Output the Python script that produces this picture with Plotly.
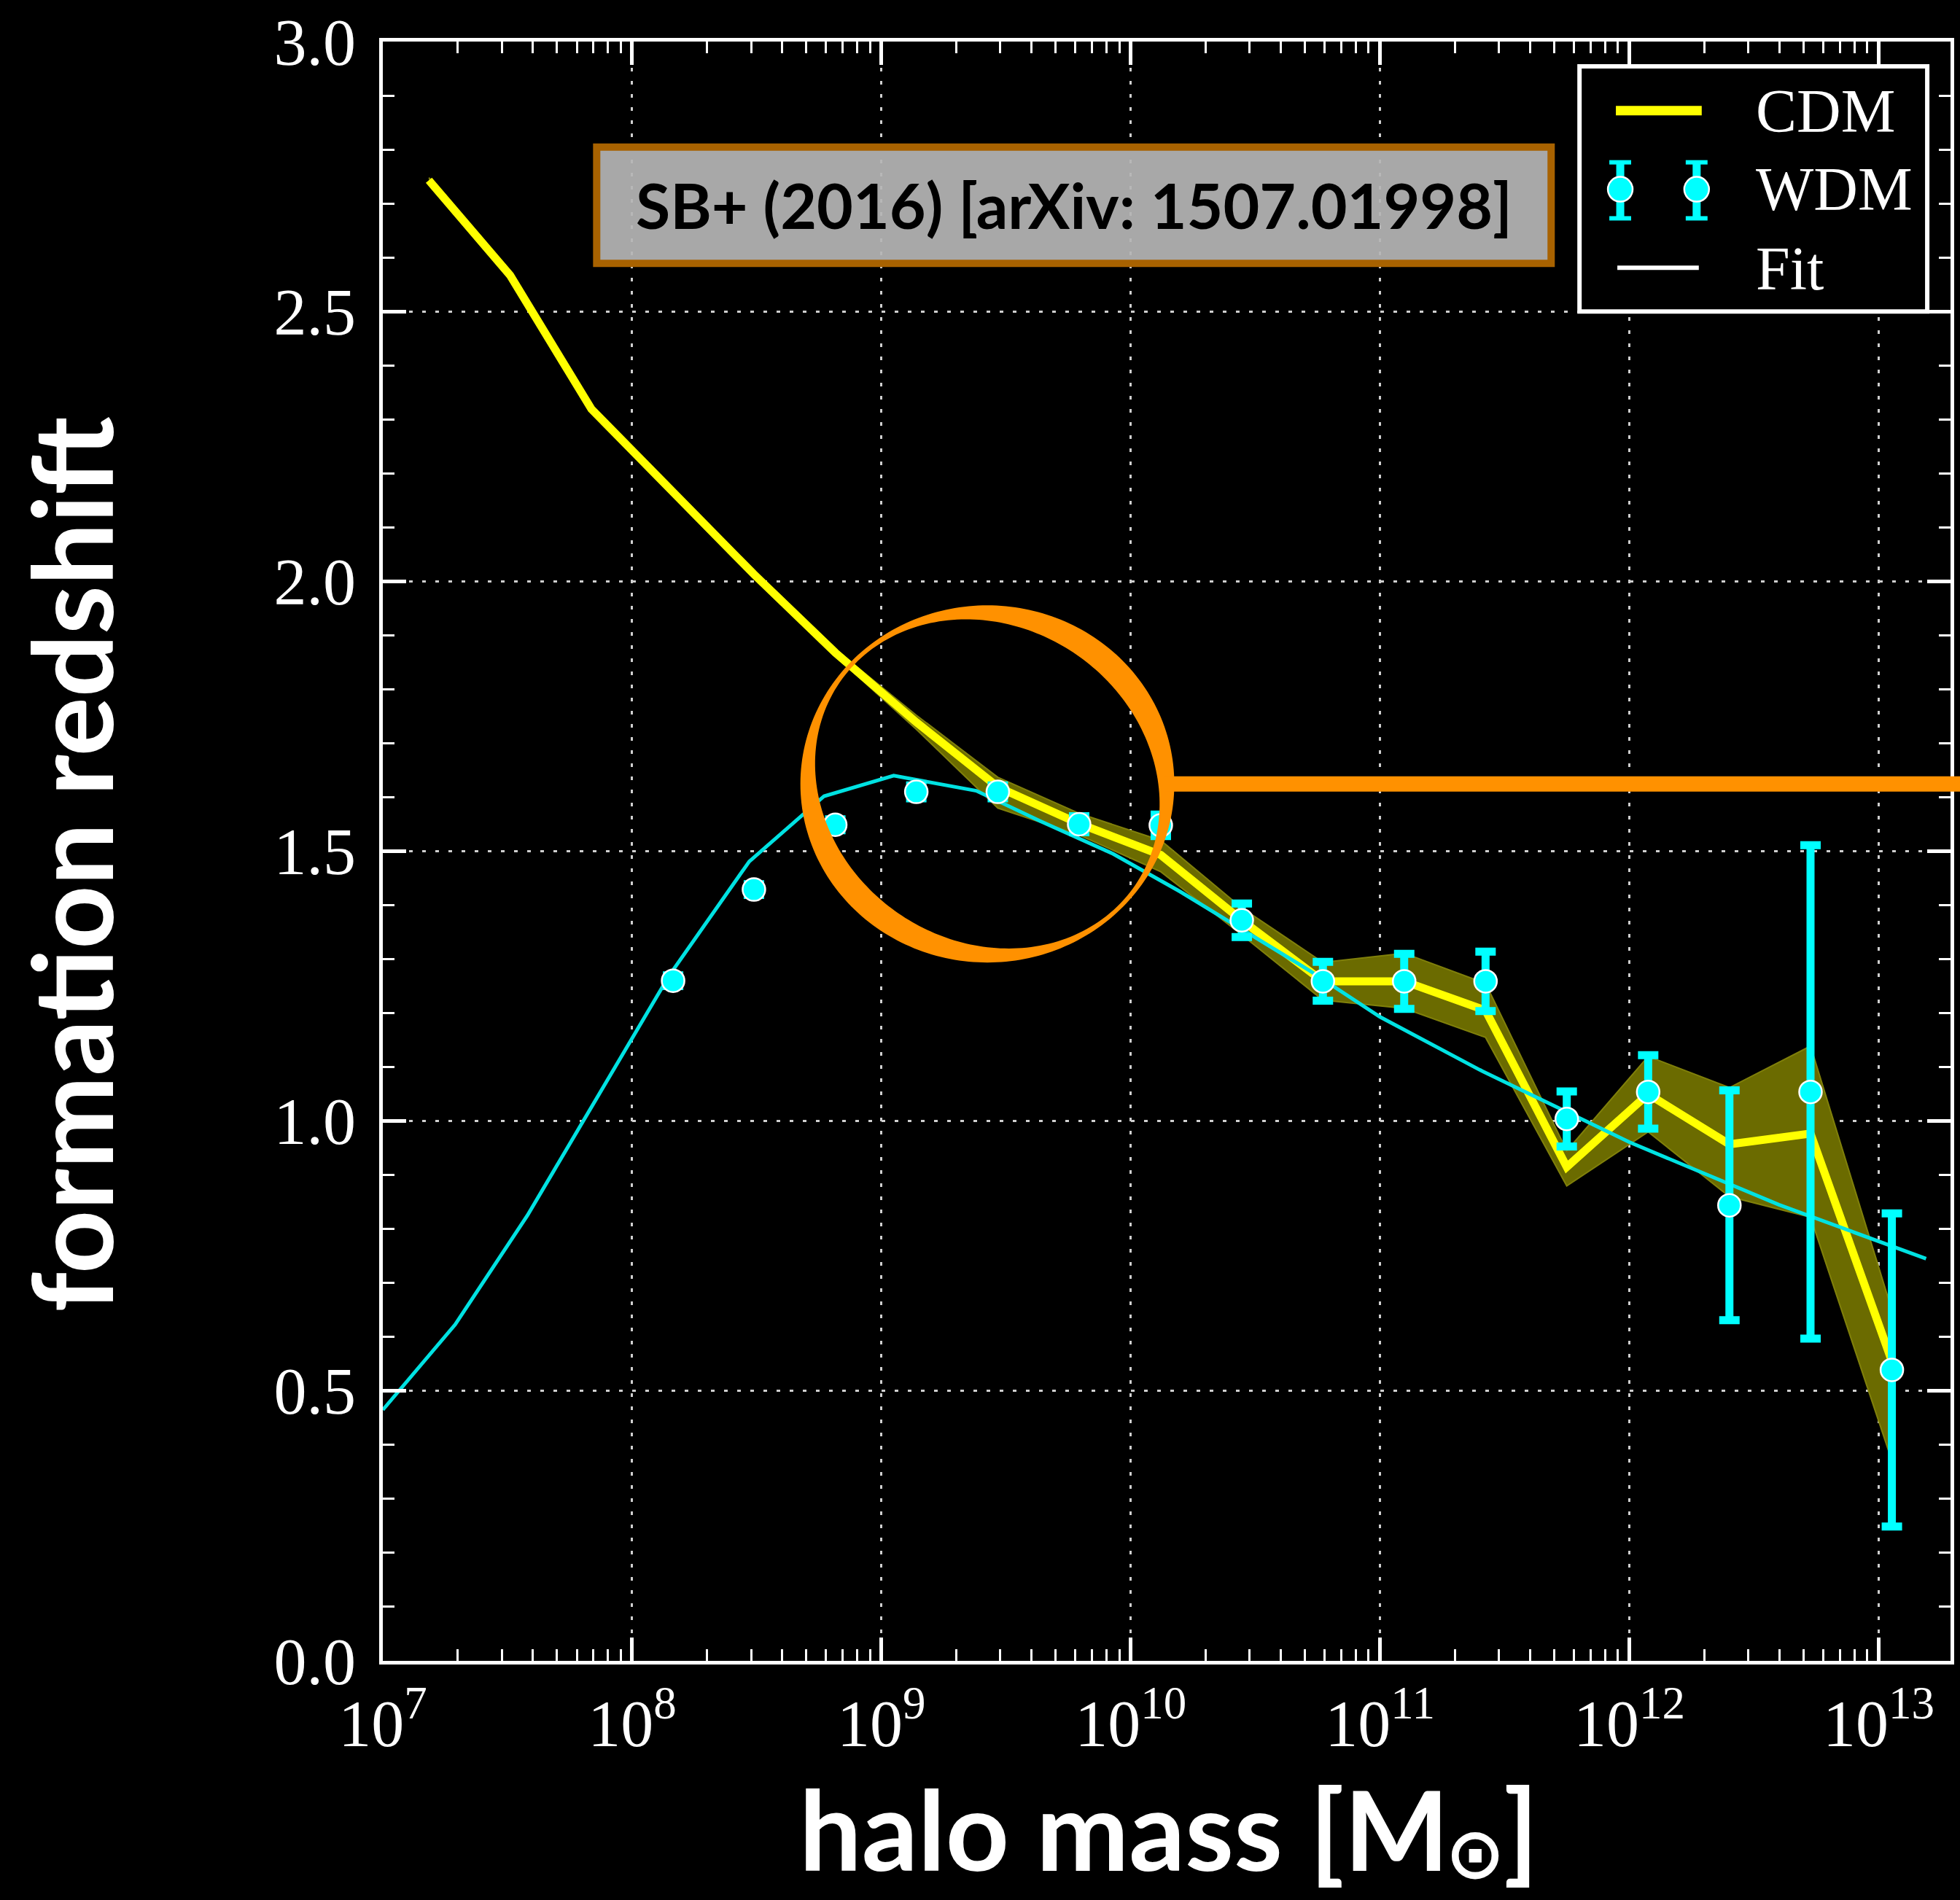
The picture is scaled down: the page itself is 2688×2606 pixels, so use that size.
import numpy as np
import plotly.graph_objects as go

# ---- data -------------------------------------------------------------
# halo mass bins [M_sun]
halo_mass = [1.53e7, 3.24e7, 6.87e7, 1.46e8, 3.08e8, 6.53e8, 1.38e9, 2.93e9,
             6.21e9, 1.32e10, 2.79e10, 5.90e10, 1.25e11, 2.65e11, 5.61e11,
             1.19e12, 2.52e12, 5.33e12, 1.13e13]

# CDM formation redshift and its uncertainty band
cdm_z = [2.743, 2.567, 2.319, 2.166, 2.013, 1.868, 1.739, 1.619, 1.551, 1.493,
         1.372, 1.259, 1.259, 1.205, 0.915, 1.050, 0.957, 0.977, 0.555]
cdm_hi = [2.748, 2.572, 2.324, 2.171, 2.018, 1.874, 1.752, 1.637, 1.570, 1.520,
          1.395, 1.294, 1.311, 1.255, 0.945, 1.120, 1.062, 1.139, 0.650]
cdm_lo = [2.738, 2.562, 2.314, 2.161, 2.008, 1.862, 1.726, 1.580, 1.530, 1.462,
          1.345, 1.224, 1.209, 1.155, 0.880, 0.980, 0.860, 0.822, 0.371]

# WDM points (mass bins from the 4th onwards) with symmetric errors
wdm_mass = halo_mass[3:]
wdm_z = [1.260, 1.429, 1.549, 1.610, 1.610, 1.550, 1.548, 1.372, 1.259, 1.259,
         1.259, 1.004, 1.054, 0.844, 1.054, 0.539]
wdm_err = [0.010, 0.010, 0.010, 0.012, 0.012, 0.015, 0.020, 0.031, 0.036,
           0.051, 0.055, 0.051, 0.068, 0.213, 0.457, 0.290]

# fitting function for the WDM formation redshift
fit_mass = [1.0e7, 1.95e7, 3.80e7, 7.59e7, 1.41e8, 2.95e8, 5.89e8, 1.12e9,
            2.40e9, 4.37e9, 8.51e9, 1.58e10, 2.82e10, 5.25e10, 1.0e11,
            2.51e11, 1.0e12, 3.98e12, 1.55e13]
fit_z = [0.465, 0.623, 0.825, 1.060, 1.270, 1.481, 1.602, 1.640, 1.612, 1.555,
         1.495, 1.425, 1.354, 1.278, 1.193, 1.095, 0.961, 0.845, 0.745]

# axis ticks
x_tickvals = [1e7, 1e8, 1e9, 1e10, 1e11, 1e12, 1e13]
x_ticktext = ["10<sup>%d</sup>" % e for e in range(7, 14)]
y_tickvals = [0.0, 0.5, 1.0, 1.5, 2.0, 2.5, 3.0]
y_ticktext = ["%.1f" % v for v in y_tickvals]

# ---- canvas geometry --------------------------------------------------
W, H = 2688, 2606
ML, MR, MT, MB = 525, 8, 52, 328
PW, PH = W - ML - MR, H - MT - MB


def px(x):
    return (x - ML) / PW


def py(y):
    return (H - MB - y) / PH


YELLOW = "#ffff00"
CYAN = "#00ffff"
FIT_CYAN = "#00e2e2"
OLIVE = "#6b6b00"
ORANGE = "#ff9100"
SERIF = "Liberation Serif, DejaVu Serif, serif"
SANS = "Lato, Open Sans, sans-serif"

fig = go.Figure()

# CDM scatter band
fig.add_trace(go.Scatter(
    x=halo_mass + halo_mass[::-1],
    y=cdm_hi + cdm_lo[::-1],
    fill="toself", fillcolor=OLIVE,
    line=dict(color="#80800a", width=2),
    mode="lines", hoverinfo="skip", showlegend=False))

# CDM mean relation
fig.add_trace(go.Scatter(
    x=halo_mass, y=cdm_z, mode="lines",
    line=dict(color=YELLOW, width=11), showlegend=False))

# fit
fig.add_trace(go.Scatter(
    x=fit_mass, y=fit_z, mode="lines",
    line=dict(color=FIT_CYAN, width=5), showlegend=False))

# WDM points
fig.add_trace(go.Scatter(
    x=wdm_mass, y=wdm_z, mode="markers",
    marker=dict(color=CYAN, size=31, line=dict(color="white", width=2.5)),
    error_y=dict(type="data", array=wdm_err, visible=True,
                 color=CYAN, thickness=11, width=14),
    showlegend=False))

# ---- shapes -----------------------------------------------------------
shapes = []

# label box
shapes.append(dict(type="rect", xref="paper", yref="paper",
                   x0=px(819), x1=px(2131), y0=py(197), y1=py(357),
                   fillcolor="rgba(181,181,181,0.93)",
                   line=dict(color="#a86200", width=10), layer="above"))

# legend frame
shapes.append(dict(type="rect", xref="paper", yref="paper",
                   x0=px(2170), x1=px(2648), y0=py(86), y1=py(423),
                   fillcolor="black", line=dict(color="white", width=6),
                   layer="above"))
# legend: CDM line
shapes.append(dict(type="line", xref="paper", yref="paper",
                   x0=px(2220), x1=px(2338), y0=py(147), y1=py(147),
                   line=dict(color=YELLOW, width=13), layer="above"))
# legend: WDM glyphs
for cx in (2226, 2331):
    shapes.append(dict(type="line", xref="paper", yref="paper",
                       x0=px(cx), x1=px(cx), y0=py(218), y1=py(295),
                       line=dict(color=CYAN, width=11), layer="above"))
    for cy in (218, 295):
        shapes.append(dict(type="line", xref="paper", yref="paper",
                           x0=px(cx - 15), x1=px(cx + 15), y0=py(cy), y1=py(cy),
                           line=dict(color=CYAN, width=6), layer="above"))
    shapes.append(dict(type="circle", xref="paper", yref="paper",
                       x0=px(cx - 17), x1=px(cx + 17), y0=py(272), y1=py(238),
                       fillcolor=CYAN, line=dict(color="white", width=2.5),
                       layer="above"))
# legend: fit line
shapes.append(dict(type="line", xref="paper", yref="paper",
                   x0=px(2222), x1=px(2334), y0=py(363), y1=py(363),
                   line=dict(color="white", width=6), layer="above"))

# highlight ring (brush-like: axis-aligned outer edge, skewed inner edge)
cx0, cy0 = 1356.0, 1072.5
theta = np.linspace(0, 2 * np.pi, 240, endpoint=False)
c, s = np.cos(theta), np.sin(theta)
r_out = 1.0 / np.sqrt(c**2 / 257.0**2 + s**2 / 245.5**2)
A, B, C = 1 / 235.0**2, 1 / 224.5**2, -2.335e-6
r_in = 1.0 / np.sqrt(A * c**2 + B * s**2 + 2 * C * c * s)


def ring_path(r, reverse=False):
    xs = cx0 + r * c
    ys = cy0 + r * s
    pts = list(zip(xs, ys))
    if reverse:
        pts = pts[::-1]
    d = "M %.5f,%.5f " % (px(pts[0][0]), py(pts[0][1]))
    d += " ".join("L %.5f,%.5f" % (px(x), py(y)) for x, y in pts[1:])
    return d + " Z"


shapes.append(dict(type="path", xref="paper", yref="paper",
                   path=ring_path(r_out) + " " + ring_path(r_in, reverse=True),
                   fillcolor=ORANGE, fillrule="evenodd",
                   line=dict(width=0), layer="above"))
# pointer bar leaving the ring
shapes.append(dict(type="rect", xref="paper", yref="paper",
                   x0=px(1600), x1=px(2700), y0=py(1083), y1=py(1062),
                   fillcolor=ORANGE, line=dict(width=0), layer="above"))

# ---- annotations ------------------------------------------------------
title_font = dict(family=SANS, size=152, color="white", weight="bold")
annotations = [
    dict(text="SB+ (2016) [arXiv: 1507.01998]", x=px(1475), y=py(276),
         xref="paper", yref="paper", showarrow=False,
         xanchor="center", yanchor="middle",
         font=dict(family=SANS, size=86, color="black", weight="bold")),
    dict(text="formation redshift", x=px(95), y=py(1183),
         xref="paper", yref="paper", showarrow=False, textangle=-90,
         xanchor="center", yanchor="middle", font=title_font),
    # x-axis title, set in three pieces so the solar symbol sits low
    dict(text="halo mass [M", x=px(1992), y=py(2508),
         xref="paper", yref="paper", showarrow=False,
         xanchor="right", yanchor="middle", font=title_font),
    dict(text="⊙", x=px(2026), y=py(2543),
         xref="paper", yref="paper", showarrow=False,
         xanchor="center", yanchor="middle",
         font=dict(family="DejaVu Sans, sans-serif", size=98, color="white",
                   weight="bold")),
    dict(text="]", x=px(2064), y=py(2508),
         xref="paper", yref="paper", showarrow=False,
         xanchor="left", yanchor="middle", font=title_font),
]
for label, ymid in (("CDM", 148), ("WDM", 255), ("Fit", 364)):
    annotations.append(dict(text=label, x=px(2410), y=py(ymid),
                            xref="paper", yref="paper", showarrow=False,
                            xanchor="left", yanchor="middle",
                            font=dict(family=SERIF, size=84, color="white")))

# ---- axes -------------------------------------------------------------
minor_x = [m * 10.0**e for e in range(7, 14) for m in range(2, 10)]
grid_style = dict(showgrid=True, gridcolor="#cfcfcf", gridwidth=3,
                  griddash="5px,13px")
axis_common = dict(showline=True, linecolor="white", linewidth=5,
                   mirror="allticks", ticks="inside", ticklen=32,
                   tickwidth=5, tickcolor="white", zeroline=False,
                   tickfont=dict(family=SERIF, size=90, color="white"))

fig.update_xaxes(type="log", range=[7, np.log10(1e7) + PW / 342.7],
                 tickvals=x_tickvals, ticktext=x_ticktext,
                 ticklabelstandoff=4,
                 minor=dict(tickvals=minor_x, ticks="inside", ticklen=16,
                            tickwidth=3, tickcolor="white", showgrid=False),
                 **grid_style, **axis_common)
fig.update_yaxes(range=[0, 3], tickvals=y_tickvals, ticktext=y_ticktext,
                 ticklabelstandoff=14,
                 minor=dict(dtick=0.1, ticks="inside", ticklen=16,
                            tickwidth=3, tickcolor="white", showgrid=False),
                 **grid_style, **axis_common)

fig.update_layout(width=W, height=H,
                  margin=dict(l=ML, r=MR, t=MT, b=MB, pad=0),
                  paper_bgcolor="black", plot_bgcolor="black",
                  showlegend=False, shapes=shapes, annotations=annotations)

fig.write_html("out.html")
